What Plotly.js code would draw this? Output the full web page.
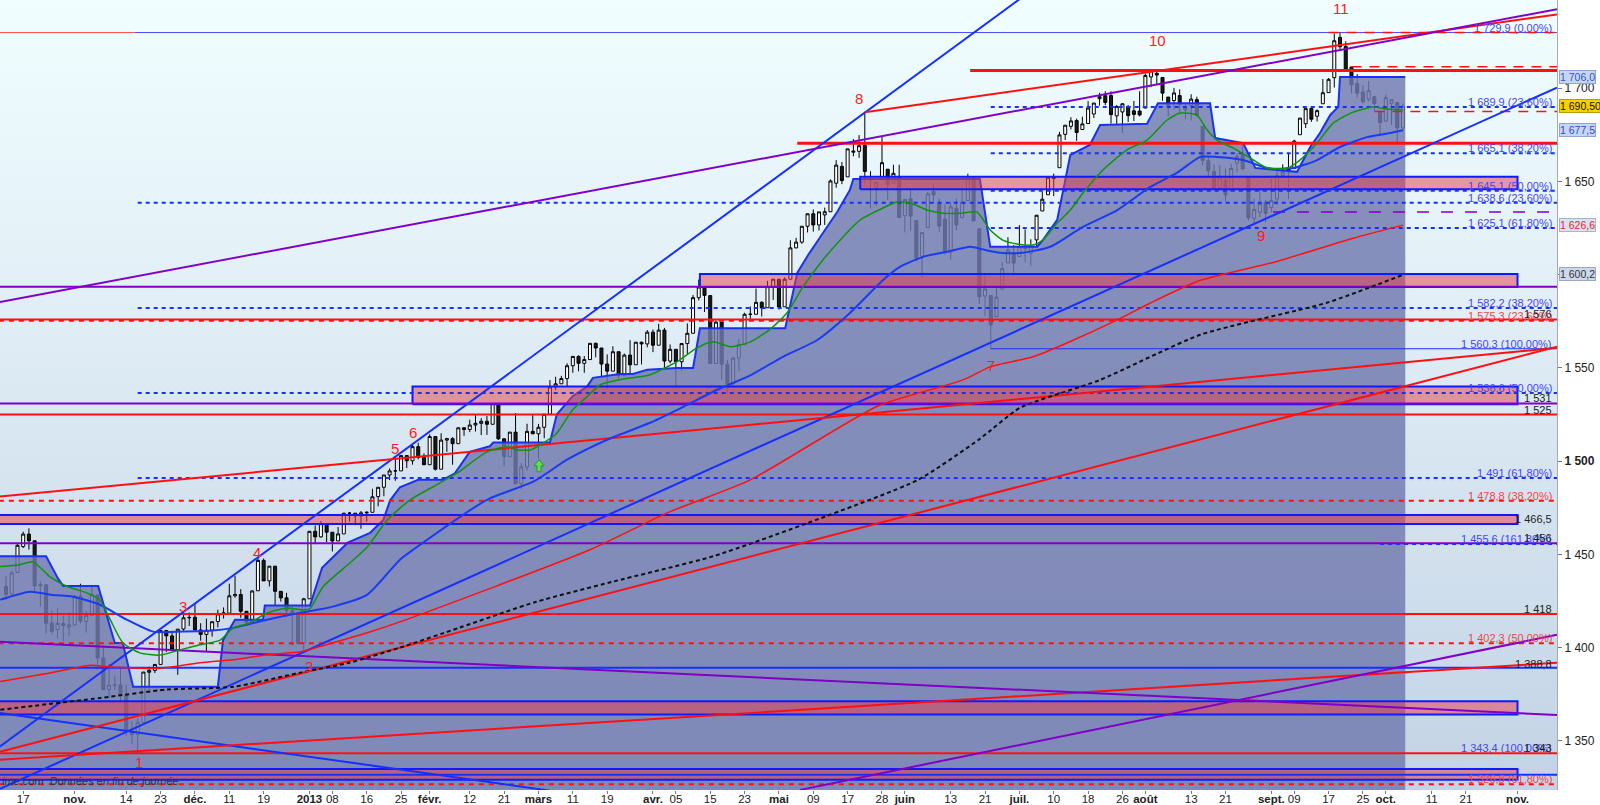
<!DOCTYPE html>
<html><head><meta charset="utf-8">
<script src="https://cdn.plot.ly/plotly-3.0.1.min.js"></script>
<style>
html,body{margin:0;padding:0;background:#fff;width:1600px;height:805px;overflow:hidden;}
#bg{position:absolute;left:0;top:0;width:1557px;height:790px;background:linear-gradient(to bottom,#f0feff 0%,#e3f0f7 35%,#d4e2ef 65%,#c3d3e5 100%);}
#chart{position:absolute;left:0;top:0;width:1600px;height:805px;}
</style></head><body>
<div id="bg"></div><div id="chart"></div>
<script>
// ---------- calendar ----------
const firstDay = '2012-10-12';
const lastAxisDay = '2013-11-12';
const holidays = ['2012-10-29','2012-10-30','2012-11-22','2012-12-25','2013-01-01','2013-01-21','2013-02-18','2013-03-29','2013-05-27','2013-07-04','2013-09-02'];

// ---------- S&P 500 daily candles (12 Oct 2012 -> 4 Oct 2013) ----------
const open = [
1432.8,1428.8,1440.3,1454.2,1460.9,1457.3,1433.2,1433.7,1413.2,1409.7,1413.0,1411.0,
1412.2,1427.6,1414.0,1417.3,1428.3,1394.5,1377.6,1379.9,1380.0,1374.6,1355.4,1353.4,1359.9,1386.8,1387.8,1391.0,1409.2,1406.3,1398.8,1410.0,1416.0,
1416.3,1409.5,1407.1,1409.4,1414.0,1418.1,1418.5,1427.8,1428.5,1419.5,1413.5,1430.5,1446.8,1435.8,1443.7,1430.2,1426.7,1419.8,1418.1,1402.4,
1426.2,1462.4,1459.4,1466.5,1461.9,1457.2,1461.0,1472.1,1472.1,1470.7,1472.3,1472.6,1481.0,1486.0,1492.6,1494.8,1494.8,1503.0,1500.2,1507.8,1502.0,
1498.1,1513.2,1495.7,1511.3,1512.1,1509.4,1517.9,1517.0,1519.4,1520.3,1521.4,1519.8,1530.9,1512.0,1502.4,1515.6,1487.9,1496.9,1516.0,
1514.7,1518.2,1525.2,1539.8,1541.5,1544.3,1551.2,1556.2,1552.5,1554.5,1563.2,1560.7,1552.1,1548.3,1558.7,1545.9,1556.9,1551.7,1563.8,1562.9,
1569.2,1562.2,1570.3,1553.7,1560.0,1553.3,1563.1,1568.6,1587.7,1593.3,1588.8,1552.4,1574.6,1552.0,1541.6,1555.3,1562.5,1578.8,1578.8,1585.2,1582.3,1593.6,
1597.6,1582.8,1597.6,1614.4,1617.5,1626.0,1632.7,1626.7,1632.1,1633.8,1649.1,1658.1,1652.5,1665.7,1666.2,1669.4,1651.6,1646.7,1652.6,1656.6,1649.1,1652.1,
1631.7,1640.7,1629.1,1609.9,1625.3,1644.7,1638.6,1629.9,1612.2,1635.5,1630.6,1639.8,1651.8,1624.6,1588.6,1588.8,1577.5,1592.3,1606.4,1611.1,
1609.8,1614.3,1611.5,1618.7,1634.2,1642.9,1651.6,1657.4,1675.3,1679.6,1682.7,1677.9,1681.1,1686.2,1694.4,1696.1,1696.1,1685.2,1687.3,1690.3,1687.9,1687.8,
1689.4,1706.1,1708.0,1705.8,1695.3,1693.4,1696.1,1688.4,1690.7,1693.9,1679.6,1661.2,1655.3,1646.8,1650.7,1645.0,1659.9,1664.3,1652.5,1630.3,1633.5,1638.9,
1636.0,1640.7,1653.3,1657.4,1656.9,1675.1,1681.0,1689.2,1685.0,1691.7,1697.7,1705.7,1727.3,1722.4,1711.4,1702.6,1698.0,1694.1,1695.5,1687.3,
1682.4,1691.9,1692.4,1678.8];
const high = [
1438.4,1441.3,1455.5,1462.2,1464.0,1457.3,1435.5,1433.7,1420.0,1421.1,1417.1,1418.8,
1428.4,1434.3,1419.9,1433.4,1428.3,1401.2,1391.4,1384.9,1388.8,1380.1,1360.6,1362.0,1386.9,1389.8,1391.2,1409.2,1409.2,1409.0,1410.0,1419.7,1418.9,
1423.7,1413.1,1415.6,1414.0,1420.3,1421.6,1434.3,1438.6,1431.4,1419.5,1430.7,1448.0,1447.8,1443.7,1443.7,1430.2,1429.4,1422.7,1418.1,1426.7,
1462.4,1465.5,1467.9,1466.5,1461.9,1464.7,1472.3,1472.8,1472.1,1473.3,1473.0,1485.2,1486.0,1492.6,1496.1,1502.3,1503.3,1503.2,1509.3,1509.9,1504.2,
1514.4,1513.2,1515.0,1512.5,1512.9,1518.3,1518.3,1522.3,1524.7,1523.1,1524.2,1530.9,1530.9,1512.0,1515.6,1525.8,1499.0,1520.1,1525.3,
1520.0,1525.3,1543.5,1545.3,1545.8,1552.5,1556.3,1556.8,1556.4,1563.3,1563.6,1560.7,1557.3,1561.6,1558.7,1557.7,1564.9,1564.0,1564.1,1570.3,
1570.6,1573.7,1571.5,1562.6,1560.0,1563.1,1573.9,1589.1,1597.4,1593.3,1588.8,1575.4,1574.6,1554.4,1555.9,1565.6,1579.6,1583.0,1592.6,1585.8,1596.7,1597.6,
1597.6,1598.6,1618.5,1619.8,1626.0,1632.8,1635.0,1633.7,1636.0,1651.1,1661.5,1660.5,1667.5,1672.8,1674.9,1687.2,1655.5,1649.8,1674.2,1656.6,1659.0,1659.0,
1640.4,1646.5,1629.3,1622.6,1644.4,1648.7,1640.8,1637.7,1639.3,1640.8,1646.5,1654.2,1652.5,1624.6,1599.2,1588.8,1593.8,1606.8,1620.1,1615.9,
1626.6,1624.3,1619.0,1632.1,1644.7,1653.0,1654.2,1676.6,1680.2,1684.5,1683.7,1684.8,1693.1,1692.1,1697.6,1698.4,1698.4,1690.9,1691.9,1690.9,1693.2,1698.4,
1707.9,1709.7,1709.2,1705.8,1695.3,1700.2,1699.4,1691.5,1696.8,1695.5,1679.6,1663.6,1659.2,1658.9,1657.0,1659.6,1664.9,1669.5,1652.5,1641.2,1646.4,1640.1,
1651.4,1655.7,1659.2,1664.8,1672.4,1684.1,1689.1,1690.0,1688.7,1705.0,1705.5,1729.4,1729.9,1725.2,1711.4,1707.6,1701.7,1703.9,1695.5,1687.3,
1696.6,1693.9,1692.4,1691.9];
const low = [
1425.5,1427.2,1440.3,1453.4,1452.6,1429.9,1422.1,1407.6,1407.1,1405.1,1403.3,1406.0,
1412.2,1412.9,1408.1,1417.3,1388.1,1377.5,1373.0,1377.2,1370.8,1352.5,1348.1,1343.4,1359.9,1377.0,1386.4,1391.0,1397.7,1398.0,1385.4,1409.0,1411.6,
1408.5,1403.7,1398.2,1405.9,1410.9,1415.6,1418.5,1426.8,1416.0,1411.9,1413.5,1430.5,1435.8,1432.8,1422.6,1424.7,1416.4,1401.1,1401.6,1398.1,
1426.2,1455.5,1459.0,1456.6,1451.6,1457.2,1461.0,1467.6,1465.7,1463.8,1467.6,1472.6,1475.8,1481.2,1489.9,1489.5,1494.8,1496.3,1498.1,1501.0,1498.0,
1498.1,1495.0,1495.7,1505.0,1498.1,1509.4,1513.6,1515.6,1515.9,1514.0,1514.1,1519.8,1511.4,1497.3,1502.4,1487.9,1485.0,1494.9,1514.5,
1501.5,1512.3,1525.2,1538.1,1541.5,1539.9,1547.4,1548.2,1547.4,1554.5,1555.7,1545.1,1538.6,1548.3,1543.6,1545.9,1546.2,1551.7,1551.9,1561.1,
1558.5,1562.2,1549.8,1552.5,1539.5,1548.6,1557.0,1568.6,1586.2,1580.0,1552.3,1552.4,1543.7,1536.0,1539.4,1548.2,1562.5,1575.8,1578.8,1577.6,1582.3,1586.5,
1581.3,1582.8,1597.6,1614.2,1616.6,1622.7,1623.1,1623.7,1626.7,1633.8,1646.7,1648.6,1652.5,1663.5,1662.7,1648.9,1635.5,1636.9,1652.6,1640.1,1648.6,1630.7,
1622.7,1623.6,1607.1,1598.2,1625.3,1639.3,1622.9,1610.9,1608.1,1624.0,1630.3,1639.8,1628.9,1584.3,1577.7,1560.3,1577.5,1592.3,1606.4,1601.1,
1609.8,1606.8,1604.6,1614.7,1634.2,1642.9,1642.2,1657.4,1672.3,1677.9,1671.8,1677.9,1681.1,1684.1,1690.7,1691.0,1681.1,1680.7,1676.0,1681.9,1682.4,1684.9,
1689.4,1700.7,1701.6,1693.3,1684.9,1688.4,1686.0,1683.4,1682.6,1684.8,1658.6,1652.6,1645.8,1646.1,1639.4,1645.0,1654.8,1656.0,1629.1,1627.5,1630.9,1628.0,
1633.4,1637.4,1653.1,1640.6,1656.9,1675.1,1678.7,1682.0,1682.2,1691.7,1697.7,1700.4,1720.2,1708.9,1697.1,1694.9,1691.9,1693.1,1688.0,1675.0,
1682.1,1680.3,1670.4,1677.3];
const close = [
1428.6,1440.1,1454.9,1460.9,1457.3,1433.2,1433.8,1413.1,1408.8,1413.0,1411.9,1412.2,
1427.6,1414.2,1417.3,1428.4,1394.5,1377.5,1379.9,1380.0,1374.5,1355.5,1353.3,1359.9,1386.9,1387.8,1391.0,1409.2,1406.3,1398.9,1409.9,1416.0,1416.2,
1409.5,1407.1,1409.3,1413.9,1418.1,1418.6,1427.8,1428.5,1419.5,1413.6,1430.4,1446.8,1435.8,1443.7,1430.2,1426.7,1419.8,1418.1,1402.4,1426.2,
1462.4,1459.4,1466.5,1461.9,1457.2,1461.0,1472.1,1472.1,1470.7,1472.3,1472.6,1480.9,1486.0,1492.6,1494.8,1494.8,1503.0,1500.2,1507.8,1502.0,1498.1,
1513.2,1495.7,1511.3,1512.1,1509.4,1517.9,1517.0,1519.4,1520.3,1521.4,1519.8,1530.9,1512.0,1502.4,1515.6,1487.9,1496.9,1516.0,1514.7,
1518.2,1525.2,1539.8,1541.5,1544.3,1551.2,1556.2,1552.5,1554.5,1563.2,1560.7,1552.1,1548.3,1558.7,1545.8,1556.9,1551.7,1563.8,1562.9,1569.2,
1562.2,1570.3,1553.7,1560.0,1553.3,1563.1,1568.6,1587.7,1593.4,1588.9,1552.4,1574.6,1552.0,1541.6,1555.3,1562.5,1578.8,1578.8,1585.2,1582.2,1593.6,1597.6,
1582.7,1597.6,1614.4,1617.5,1626.0,1632.7,1626.7,1633.7,1633.8,1650.3,1658.8,1650.5,1667.5,1666.3,1669.2,1655.4,1650.5,1649.6,1660.1,1648.4,1654.4,1630.7,
1640.4,1631.4,1608.9,1622.6,1643.4,1642.8,1626.1,1612.5,1636.4,1626.7,1639.0,1651.8,1628.9,1588.2,1592.4,1573.1,1588.0,1603.3,1613.2,1606.3,
1615.0,1614.1,1615.4,1631.9,1640.5,1652.3,1652.6,1675.0,1680.2,1682.5,1676.3,1680.9,1689.4,1692.1,1695.5,1692.4,1685.9,1690.3,1691.7,1685.3,1686.0,1685.7,
1706.9,1709.7,1707.1,1697.4,1690.9,1697.5,1691.4,1689.5,1694.2,1685.4,1661.3,1655.8,1646.1,1652.4,1642.8,1657.0,1663.5,1656.8,1630.5,1635.0,1638.2,1633.0,
1639.8,1653.1,1655.1,1655.2,1671.7,1684.0,1689.1,1683.4,1688.0,1697.6,1704.8,1725.5,1722.3,1709.9,1701.8,1697.4,1692.8,1698.7,1691.8,1681.6,
1695.0,1693.9,1678.7,1690.5];

// ---------- indicators (trading-day number, value) ----------
const stepX = [-2,7.0,9.1,10.0,16.1,19.0,20.4,22.2,37.0,37.9,40.0,44.9,45.2,53.1,55.2,59.7,63.6,65.9,67.1,68.8,72.0,76.3,78.4,81.0,84.5,85.1,95.0,96.2,99.0,101.5,102.5,107.2,109.5,112.0,117.2,120.0,121.2,136.1,138.2,140.1,145.2,147.4,148.0,170.1,171.9,180.1,181.1,183.6,185.9,189.3,191.1,199.3,201.2,210.3,211.2,216.1,218.2,225.5,227.8,229.5,231.3,232.7,233.0,244.4];
const stepY = [1449,1449,1437,1433,1433,1402.5,1402.5,1379,1379,1404,1415,1415,1422.6,1422.6,1442.8,1456.3,1461.6,1468.5,1479,1486,1490,1490,1493.5,1505,1508,1510,1510,1525,1535,1540,1544.7,1546.8,1546.8,1549,1550,1550,1571.3,1571.3,1601,1610.6,1633.8,1645.5,1651.4,1651.4,1615,1615,1618.6,1629.4,1664.3,1669.6,1680.3,1681,1692,1692,1673.3,1670.6,1657.3,1655.2,1668.5,1676,1685.7,1690,1706,1706];

const ma20X = [-1.0,2.4,4.7,7.7,10.7,14.1,16.4,18.2,20.4,23.4,26.9,30.4,33.9,37.4,39.7,42.6,45.6,49.1,51.9,53.1,55.4,60.1,63.1,66.6,70.6,74.6,78.8,84.0,87.5,89.3,91.5,93.3,96.2,99.0,101.5,103.8,107.2,112.5,117.2,120.7,123.5,126.5,130.0,133.4,136.4,139.2,142.7,146.2,149.2,153.2,155.6,157.9,160.9,163.7,166.6,169.6,170.7,171.9,174.1,176.6,179.4,181.1,183.6,185.9,188.1,191.6,195.8,199.3,202.8,205.1,208.0,209.8,211.5,214.3,217.3,220.3,223.8,226.0,229.0,231.8,235.3,238.8,241.2,244.0];
const ma20Y = [1443.5,1444.5,1446,1438,1432.8,1429.4,1425.6,1415,1402.6,1397.2,1396,1398.8,1401.5,1404,1410.6,1413.3,1418.6,1421.3,1420.2,1421,1432.8,1445.5,1454,1468.5,1479.3,1486.3,1493.7,1505,1507.8,1506,1506,1508.8,1515,1527.7,1534.6,1541,1543.7,1546.4,1553.4,1560.8,1564,1561.4,1564,1570.6,1579.5,1593.5,1608,1620.3,1629.4,1635.8,1639,1638.5,1634.7,1633,1633,1633.6,1629.4,1624,1618.6,1616.5,1616,1618.6,1627.7,1634.7,1643.8,1656.2,1667,1672.2,1683,1686.7,1685.6,1677.6,1672.2,1668,1662.6,1657.2,1657.2,1661.5,1670.6,1681.3,1687.2,1690,1688.9,1688.4];

const ma50X = [-1.0,4.2,7.7,11.7,16.4,21.1,25.7,30.9,35.6,39.7,45.6,51.4,57.1,63.1,68.8,71.1,84.0,92.1,98.0,105.0,112.5,118.3,124.2,130.0,135.7,141.7,147.4,153.2,156.2,160.2,164.4,168.4,170.7,173.6,177.6,182.4,188.1,194.1,199.8,204.5,208.6,211.5,216.1,220.3,224.8,229.0,233.0,237.7,241.7,244.0];
const ma50Y = [1425.7,1430,1428.4,1427.3,1423,1415,1408.6,1408.6,1409,1410.6,1415,1418.7,1422,1428.4,1447.2,1452.5,1479.3,1489,1500.8,1511.5,1520.6,1529.2,1538.3,1546,1556,1565,1579.5,1597.2,1604.3,1609.6,1612.3,1615,1613.5,1611.8,1611.8,1615,1625.7,1634.7,1647,1654.6,1663.2,1663.2,1661.5,1657.2,1657.2,1661.5,1668.5,1673.8,1676,1677.5];

const ma200X = [-1.0,7.7,14.7,18.2,26.9,33.9,39.7,45.6,51.4,57.1,63.1,68.8,102.0,115.5,130.0,152.3,167.2,171.9,179.4,185.3,194.1,199.8,208.6,221.8,235.3,244.0];
const ma200Y = [1381.8,1386.4,1390.6,1389.6,1389,1391.9,1393.5,1396.2,1397.8,1402.6,1408,1413.8,1452.5,1472.3,1490,1529.6,1543.6,1550.6,1556,1563.4,1575.8,1584.7,1597,1607,1619.6,1626.6];

const maLongX = [-1.0,16.4,28.1,39.7,51.4,60.1,68.8,79.1,92.6,105.9,123.7,141.5,159.3,170.1,177.1,191.1,208.6,230.7,244.2];
const maLongY = [1366.7,1373,1377.5,1379,1386.6,1392,1400,1410.6,1424.6,1435.3,1449.2,1468.5,1490,1512,1528.6,1543.6,1567.8,1585,1600.2];

// ---------- drawn levels / zones ----------
const zoneLo = [1645.8,1593.4,1530.5,1466.3,1364.2,1329.2];
const zoneHi = [1652.6,1600.4,1540.1,1471.1,1371.3,1334.9];
const zoneFrom = [149.2,121.2,71.0,-3,-3,-3];
const zoneTo = 264;
const redLevels = [1576,1525,1418,1343.4];
const purpleLevels = [1593.5,1531,1456];
const blueLevels = [1389.2,1331.8];
const fibA = [1638.6,1582.2,1536.6,1491];          // 0% 1729.9 / 100% 1343.4
const fibB = [1689.9,1665.1,1645.1,1625.1];        // 0% 1729.9 / 100% 1560.3
const fibRed = [1575.3,1478.8,1402.3,1326.8];
const top0 = 1729.9, low7 = 1560.3, res8 = 1670.5, res10 = 1709.6;

// trend lines: [x0, y0, x1, y1]
const trendBlue = [[-1.05,1347.0,178.9,1752.0],[-1.05,1324.3,270.9,1700.4],[-1.05,1364.9,95,1323.3]];
const trendRed = [[150,1687.2,270.9,1739.6],[-1.05,1481.0,270.9,1560.8],[-1.05,1344.2,270.9,1561.4],[-1.05,1339.9,270.9,1391.9]];
const trendPurple = [[-1.05,1585.4,270.9,1742.4],[138.7,1323.7,270.9,1406.9],[-1.05,1403.1,270.9,1363.9]];

// labels on the right edge
const fibLabelsBlue = [['1 729,9 (0,00%)',1729.9],['1 689,9 (23,60%)',1689.9],['1 665,1 (38,20%)',1665.1],['1 645,1 (50,00%)',1645.1],['1 638,6 (23,60%)',1638.6],['1 625,1 (61,80%)',1625.1],['1 582,2 (38,20%)',1582.2],['1 560,3 (100,00%)',1560.3],['1 536,6 (50,00%)',1536.6],['1 491 (61,80%)',1491],['1 455,6 (161,80%)',1455.6],['1 343,4 (100,00%)',1343.4]];
const fibLabelsRed = [['1 575,3 (23,60%)',1575.3],['1 478,8 (38,20%)',1478.8],['1 402,3 (50,00%)',1402.3],['1 326,8 (61,80%)',1326.8]];
const levelLabels = [['1 576',1576],['1 531',1531],['1 525',1525],['1 466,5',1466.5],['1 456',1456],['1 418',1418],['1 388,8',1388.8],['1 343',1343.4]];
const waveLabels = ['1','2','3','4','5','6','7','8','9','10','11'];
const waveX = [23.2,52.9,30.9,43.8,67.9,71.1,172.1,149.0,219.2,201.2,233.2];
const waveY = [1338.3,1389.8,1422.0,1450.9,1506.6,1515.2,1551.1,1694.3,1621.3,1725.4,1742.6];
const lastValues = [['1 706,0',1706.0],['1 690,50',1690.5],['1 677,5',1677.5],['1 626,6',1626.6],['1 600,2',1600.2]];

const tickDates = ['2012-10-17','2012-11-01','2012-11-14','2012-11-23','2012-12-03','2012-12-11','2012-12-19','2013-01-02','2013-01-08','2013-01-16','2013-01-25','2013-02-01','2013-02-12','2013-02-21','2013-03-01','2013-03-11','2013-03-19','2013-04-01','2013-04-05','2013-04-15','2013-04-23','2013-05-01','2013-05-09','2013-05-17','2013-05-28','2013-06-03','2013-06-13','2013-06-21','2013-07-01','2013-07-10','2013-07-18','2013-07-26','2013-08-01','2013-08-13','2013-08-21','2013-09-03','2013-09-09','2013-09-17','2013-09-25','2013-10-01','2013-10-11','2013-10-21','2013-11-01'];
const tickLabels = ['17','<b>nov.</b>','14','23','<b>déc.</b>','11','19','<b>2013</b>','08','16','25','<b>févr.</b>','12','21','<b>mars</b>','11','19','<b>avr.</b>','05','15','23','<b>mai</b>','09','17','28','<b>juin</b>','13','21','<b>juil.</b>','10','18','26','<b>août</b>','13','21','<b>sept.</b>','09','17','25','<b>oct.</b>','11','21','<b>nov.</b>'];

// ---------- build day index ----------
const dayIndex = {};
(function(){
  let d = new Date(firstDay+'T12:00:00Z'); let k = 0;
  const end = new Date(lastAxisDay+'T12:00:00Z');
  while (d <= end) {
    const iso = d.toISOString().slice(0,10); const wd = d.getUTCDay();
    const trading = k < close.length;
    if (wd !== 0 && wd !== 6 && !(trading && holidays.includes(iso))) { dayIndex[iso] = k; k++; }
    d.setUTCDate(d.getUTCDate()+1);
  }
})();
const dayNum = close.map((_, k) => k);

// ---------- traces ----------
const FONT = 'Liberation Sans, Arial, sans-serif';
const BLUE = '#1530ff', RED = '#ff1010', PURPLE = '#8000c8';
const traces = [];
function line(x, y, color, width, dash, extra) {
  traces.push(Object.assign({type:'scatter', mode:'lines', x, y, line:{color, width, dash: dash || 'solid'}, hoverinfo:'skip', showlegend:false}, extra || {}));
}
line(stepX, stepY, '#1a32f0', 2, 'solid', {fill:'tozeroy', fillcolor:'rgba(112,121,173,0.82)'});
zoneLo.forEach((lo, k) => {
  const a = zoneFrom[k], hi = zoneHi[k];
  line([a, zoneTo, zoneTo, a, a], [lo, lo, hi, hi, lo], '#0c1cff', 2, 'solid', {fill:'toself', fillcolor:'rgba(232,62,80,0.52)'});
});
const X0 = -3, X1 = 272;
redLevels.forEach(v => line([X0, X1], [v, v], RED, 2));
purpleLevels.forEach(v => line([X0, X1], [v, v], PURPLE, 2));
blueLevels.forEach(v => line([X0, X1], [v, v], BLUE, 2));
fibA.forEach(v => line([23, X1], [v, v], BLUE, 2, '4px,4px'));
fibB.forEach(v => line([172, X1], [v, v], BLUE, 2, '4px,4px'));
line([240, X1], [1455.6, 1455.6], BLUE, 2, '4px,4px');
fibRed.forEach(v => line([X0, X1], [v, v], RED, 2, '5px,5px'));
line([X0, 22.5], [top0, top0], '#ff5050', 1);
line([22.5, X1], [top0, top0], '#4a4aff', 1);
line([172, X1], [low7, low7], BLUE, 1);
line([138.2, X1], [res8, res8], RED, 3);
line([168.4, X1], [res10, res10], RED, 3);
line([231, X1], [top0, top0], RED, 1.5, '10px,8px');
line([235, X1], [1711.6, 1711.6], RED, 1.5, '10px,8px');
line([239, X1], [1687.5, 1687.5], RED, 1.5, '10px,8px');
line([221.3, X1], [1633.6, 1633.6], PURPLE, 1.5, '12px,12px');
trendBlue.forEach(t => line([t[0], t[2]], [t[1], t[3]], BLUE, 2));
trendRed.forEach(t => line([t[0], t[2]], [t[1], t[3]], RED, 2));
trendPurple.forEach(t => line([t[0], t[2]], [t[1], t[3]], PURPLE, 2));
line(maLongX, maLongY, '#111', 2, '4px,3px', {line:{color:'#111', width:2, dash:'4px,3px', shape:'spline', smoothing:0.6}});
line(ma200X, ma200Y, RED, 1.5, 'solid', {line:{color:RED, width:1.5, shape:'spline', smoothing:0.6}});
line(ma50X, ma50Y, BLUE, 2, 'solid', {line:{color:'#1a3cf0', width:2, shape:'spline', smoothing:0.6}});
line(ma20X, ma20Y, '#0a9a0a', 1.5, 'solid', {line:{color:'#109410', width:1.5, shape:'spline', smoothing:0.6}});
traces.push({type:'candlestick', x:dayNum, open, high, low, close,
  increasing:{line:{color:'#000', width:1}, fillcolor:'#ffffff'},
  decreasing:{line:{color:'#000', width:1}, fillcolor:'#1a1a1a'},
  whiskerwidth:0, hoverinfo:'skip', showlegend:false});

// ---------- annotations ----------
const ann = [];
fibLabelsBlue.forEach(([t, v]) => ann.push({xref:'paper', x:0.998, xanchor:'right', y:v, yanchor:'bottom', yshift:-3, text:t, showarrow:false, font:{family:FONT, size:11, color:'#4646f2'}}));
fibLabelsRed.forEach(([t, v]) => ann.push({xref:'paper', x:0.998, xanchor:'right', y:v, yanchor:'bottom', yshift:-3, text:t, showarrow:false, font:{family:FONT, size:11, color:'#f24646'}}));
levelLabels.forEach(([t, v]) => ann.push({xref:'paper', x:0.998, xanchor:'right', y:v, yanchor:'bottom', yshift:-3, text:t, showarrow:false, font:{family:FONT, size:11, color:'#222'}}));
waveLabels.forEach((t, k) => ann.push({x:waveX[k], y:waveY[k], text:t, showarrow:false, font:{family:FONT, size:15, color:'#ff1a1a'}}));
const boxStyle = [
  {bg:'#c7d6f0', bd:'#8ea4d4', fc:'#3556b8'},
  {bg:'#f7d000', bd:'#b89a00', fc:'#111'},
  {bg:'#c7d6f0', bd:'#8ea4d4', fc:'#2a4fc0'},
  {bg:'#d9e2f2', bd:'#a8b4cc', fc:'#e02a2a'},
  {bg:'#cdd8ea', bd:'#98a6c0', fc:'#333'}];
lastValues.forEach(([t, v], k) => ann.push({xref:'paper', x:1, xanchor:'left', xshift:2, y:v, yanchor:'middle', text:t, showarrow:false,
  bgcolor:boxStyle[k].bg, bordercolor:boxStyle[k].bd, borderwidth:1, borderpad:0, font:{family:FONT, size:10.5, color:boxStyle[k].fc}}));
ann.push({xref:'paper', yref:'paper', x:0, y:0, xanchor:'left', yanchor:'bottom', yshift:1, text:'ime.com  Données en fin de journée', showarrow:false,
  font:{family:FONT, size:11, color:'#333', style:'italic'}});

const layout = {
  width:1600, height:805, margin:{l:0, r:43, t:0, b:15},
  paper_bgcolor:'rgba(0,0,0,0)', plot_bgcolor:'rgba(0,0,0,0)',
  showlegend:false, hovermode:false, dragmode:false, boxgap:0.25,
  xaxis:{type:'linear', range:[-1.05, 270.9], showgrid:false, zeroline:false, rangeslider:{visible:false},
    tickvals:tickDates.map(d => dayIndex[d]), ticktext:tickLabels, ticks:'outside', ticklen:3, tickcolor:'#777',
    ticklabelstandoff:-5, tickfont:{family:FONT, size:11.5, color:'#222'}, showline:false},
  yaxis:{side:'right', range:[1323.65, 1747.35], showgrid:false, zeroline:false, showline:true, linecolor:'#a9a9a9', linewidth:1,
    tickvals:[1350,1400,1450,1500,1550,1600,1650,1700], ticktext:['1 350','1 400','1 450','<b>1 500</b>','1 550','1 600','1 650','1 700'],
    ticks:'outside', ticklen:4, tickcolor:'#777', tickfont:{family:FONT, size:12, color:'#222'}},
  annotations:ann,
  shapes:[{type:'path', xref:'x', yref:'y', xsizemode:'pixel', ysizemode:'pixel', xanchor:93.1, yanchor:1497,
    path:'M 0 7 L 5 1 L 2 1 L 2 -5 L -2 -5 L -2 1 L -5 1 Z', fillcolor:'#66dd55', line:{color:'#1f9a1f', width:1}}]
};
Plotly.newPlot('chart', traces, layout, {displayModeBar:false, staticPlot:true});
</script></body></html>
